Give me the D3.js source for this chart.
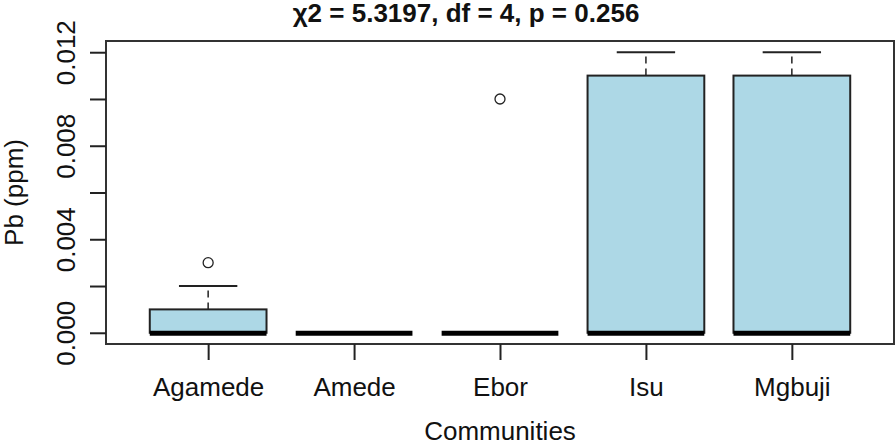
<!DOCTYPE html>
<html>
<head>
<meta charset="utf-8">
<script src="https://cdn.jsdelivr.net/npm/d3@7"></script>
<style>
  body { margin: 0; background: #fff; }
  svg { display: block; font-family: "Liberation Sans", Arial, sans-serif; }
</style>
</head>
<body>
<svg id="chart" width="895" height="446"></svg>
<script>
// summary stats per community
const communities = ["Agamede", "Amede", "Ebor", "Isu", "Mgbuji"];
const lowerWhisker = [0, 0, 0, 0, 0];
const q1 = [0, 0, 0, 0, 0];
const median = [0, 0, 0, 0, 0];
const q3 = [0.001, 0, 0, 0.011, 0.011];
const upperWhisker = [0.002, 0, 0, 0.012, 0.012];
const outliers = [[0.003], [], [0.01], [], []];

const yTicks = [0, 0.002, 0.004, 0.006, 0.008, 0.01, 0.012];
const yTickLabels = ["0.000", "", "0.004", "", "0.008", "", "0.012"];
const title = "χ2 = 5.3197, df = 4, p = 0.256";
const xTitle = "Communities";
const yTitle = "Pb (ppm)";

const svg = d3.select("#chart");
const plotLeft = 106, plotRight = 894, plotTop = 41, plotBottom = 344;
const fontSize = 26;

const data = communities.map((c, i) => ({
  name: c,
  pos: i + 1,
  lo: lowerWhisker[i],
  q1: q1[i],
  med: median[i],
  q3: q3[i],
  hi: upperWhisker[i],
  out: outliers[i]
}));

// R style ranges: 0.5..n+0.5 and data range, both padded by 4%
const xScale = d3.scaleLinear().domain([0.3, communities.length + 0.7]).range([plotLeft, plotRight]);
const yScale = d3.scaleLinear().domain([-0.00048, 0.01248]).range([plotBottom, plotTop]);
const unit = xScale(2) - xScale(1);
const boxW = 0.8 * unit;
const capW = 0.4 * unit;

// boxes
const groups = svg.selectAll("g.box").data(data).join("g").attr("class", "box");

// dashed whiskers
groups.append("line")
  .attr("x1", d => xScale(d.pos)).attr("x2", d => xScale(d.pos))
  .attr("y1", d => yScale(d.q3)).attr("y2", d => yScale(d.hi))
  .attr("stroke", "#222").attr("stroke-width", 1.5).attr("stroke-dasharray", "7,5");
groups.append("line")
  .attr("x1", d => xScale(d.pos)).attr("x2", d => xScale(d.pos))
  .attr("y1", d => yScale(d.q1)).attr("y2", d => yScale(d.lo))
  .attr("stroke", "#222").attr("stroke-width", 1.5).attr("stroke-dasharray", "7,5");

// staples
groups.append("line")
  .attr("x1", d => xScale(d.pos) - capW / 2).attr("x2", d => xScale(d.pos) + capW / 2)
  .attr("y1", d => yScale(d.hi)).attr("y2", d => yScale(d.hi))
  .attr("stroke", "#222").attr("stroke-width", 2);
groups.append("line")
  .attr("x1", d => xScale(d.pos) - capW / 2).attr("x2", d => xScale(d.pos) + capW / 2)
  .attr("y1", d => yScale(d.lo)).attr("y2", d => yScale(d.lo))
  .attr("stroke", "#222").attr("stroke-width", 2);

// box body
groups.append("rect")
  .attr("x", d => xScale(d.pos) - boxW / 2)
  .attr("width", boxW)
  .attr("y", d => yScale(d.q3))
  .attr("height", d => yScale(d.q1) - yScale(d.q3))
  .attr("fill", "#add8e6")
  .attr("stroke", "#222")
  .attr("stroke-width", 2);

// median
groups.append("line")
  .attr("x1", d => xScale(d.pos) - boxW / 2).attr("x2", d => xScale(d.pos) + boxW / 2)
  .attr("y1", d => yScale(d.med) + 0.5).attr("y2", d => yScale(d.med) + 0.5)
  .attr("stroke", "#000").attr("stroke-width", 5);

// outliers
groups.selectAll("circle")
  .data(d => d.out.map(v => ({ pos: d.pos, v })))
  .join("circle")
  .attr("cx", d => xScale(d.pos))
  .attr("cy", d => yScale(d.v))
  .attr("r", 5)
  .attr("fill", "none")
  .attr("stroke", "#222")
  .attr("stroke-width", 1.3);

// plot frame
svg.append("rect")
  .attr("x", plotLeft).attr("y", plotTop)
  .attr("width", plotRight - plotLeft).attr("height", plotBottom - plotTop)
  .attr("fill", "none").attr("stroke", "#333").attr("stroke-width", 2);

// y axis
const yAxis = svg.append("g")
  .attr("transform", `translate(${plotLeft},0)`)
  .call(d3.axisLeft(yScale).tickValues(yTicks).tickSize(16)
    .tickFormat((d, i) => yTickLabels[i]));
yAxis.select(".domain").remove();
yAxis.selectAll(".tick line").attr("stroke", "#222").attr("stroke-width", 2);
yAxis.selectAll(".tick text")
  .attr("transform", "rotate(-90)")
  .attr("x", 0).attr("y", -31).attr("dy", 0)
  .attr("text-anchor", "middle")
  .attr("font-size", fontSize)
  .attr("font-family", "Liberation Sans, Arial, sans-serif")
  .attr("fill", "#111");

// x axis
const xAxis = svg.append("g")
  .attr("transform", `translate(0,${plotBottom})`)
  .call(d3.axisBottom(xScale).tickValues(data.map(d => d.pos)).tickSize(16)
    .tickFormat((d, i) => communities[i]));
xAxis.select(".domain").remove();
xAxis.selectAll(".tick line").attr("stroke", "#222").attr("stroke-width", 2);
xAxis.selectAll(".tick text")
  .attr("y", 52).attr("dy", 0)
  .attr("font-size", fontSize)
  .attr("font-family", "Liberation Sans, Arial, sans-serif")
  .attr("fill", "#111");

// titles
svg.append("text")
  .attr("x", 466).attr("y", 22)
  .attr("text-anchor", "middle")
  .attr("font-size", fontSize).attr("font-weight", "bold")
  .attr("fill", "#111")
  .text(title);

svg.append("text")
  .attr("x", (plotLeft + plotRight) / 2).attr("y", 440)
  .attr("text-anchor", "middle")
  .attr("font-size", fontSize)
  .attr("fill", "#111")
  .text(xTitle);

svg.append("text")
  .attr("transform", `translate(23,${(plotTop + plotBottom) / 2}) rotate(-90)`)
  .attr("text-anchor", "middle")
  .attr("font-size", fontSize)
  .attr("fill", "#111")
  .text(yTitle);
</script>
</body>
</html>
